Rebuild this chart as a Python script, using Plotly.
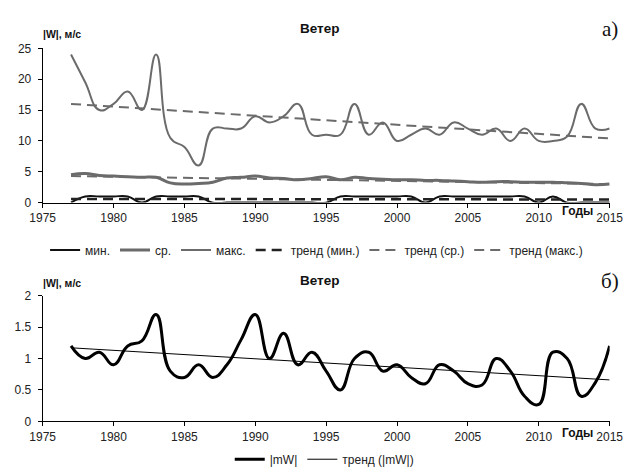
import plotly.graph_objects as go

# ---- data -------------------------------------------------------------
years = list(range(1977, 2016))

w_min = [0, 1, 1, 1, 1, 0, 1, 1, 1, 1,
         0, 0, 0, 0, 0, 0, 0, 0, 0, 1,
         1, 1, 1, 1, 1, 0, 1, 1, 1, 1,
         1, 1, 1, 0, 1, 0, 0, 0, 0]

w_avg = [4.5, 4.7, 4.4, 4.3, 4.2, 4.1, 4.1, 3.2, 3.0, 3.1,
         3.3, 4.0, 4.1, 4.3, 4.0, 3.9, 3.7, 3.9, 4.2, 3.7,
         4.1, 3.9, 3.8, 3.7, 3.7, 3.6, 3.6, 3.5, 3.4, 3.3,
         3.4, 3.4, 3.3, 3.3, 3.3, 3.2, 3.1, 2.9, 3.0]

w_max = [24, 19.5, 15, 16, 18, 15, 24, 10.5, 9, 6,
         12, 12, 12, 14, 13, 14, 16, 11, 11, 11,
         16, 11, 13, 10, 11, 12, 11, 13, 12, 11,
         12, 10, 12, 10, 10, 10.7, 16, 12, 12]

trend_years = [1977, 2015]
trend_min = [0.6, 0.5]
trend_avg = [4.3, 3.0]
trend_max = [16.0, 10.4]

mw = [1.2, 1.0, 1.1, 0.9, 1.2, 1.28, 1.7, 0.8, 0.7, 0.9,
      0.7, 0.9, 1.3, 1.7, 1.0, 1.4, 0.9, 1.1, 0.8, 0.5,
      1.0, 1.1, 0.8, 0.9, 0.7, 0.6, 0.9, 0.8, 0.6, 0.58,
      1.0, 0.8, 0.4, 0.27, 1.1, 1.0, 0.4, 0.62, 1.2]
trend_mw = [1.17, 0.66]

x_ticks = [1975, 1980, 1985, 1990, 1995, 2000, 2005, 2010, 2015]

# ---- figure -----------------------------------------------------------
W, H = 638, 474
FONT = "Liberation Sans"
GRAY = "#6b6b6b"
SMOOTH = 1.3


def px_x(p):
    return p / W


def px_y(p):
    return 1 - p / H


fig = go.Figure()

# top panel
fig.add_trace(go.Scatter(x=years, y=w_min, name="мин.", mode="lines",
                         line=dict(color="#111111", width=2, shape="spline", smoothing=SMOOTH),
                         xaxis="x", yaxis="y", legend="legend"))
fig.add_trace(go.Scatter(x=years, y=w_avg, name="ср.", mode="lines",
                         line=dict(color=GRAY, width=3, shape="spline", smoothing=SMOOTH),
                         xaxis="x", yaxis="y", legend="legend"))
fig.add_trace(go.Scatter(x=years, y=w_max, name="макс.", mode="lines",
                         line=dict(color=GRAY, width=2, shape="spline", smoothing=SMOOTH),
                         xaxis="x", yaxis="y", legend="legend"))
fig.add_trace(go.Scatter(x=trend_years, y=trend_min, name="тренд (мин.)", mode="lines",
                         line=dict(color="#222222", width=2.5, dash="10px,6px"),
                         xaxis="x", yaxis="y", legend="legend"))
fig.add_trace(go.Scatter(x=trend_years, y=trend_avg, name="тренд (ср.)", mode="lines",
                         line=dict(color=GRAY, width=2, dash="10px,6px"),
                         xaxis="x", yaxis="y", legend="legend"))
fig.add_trace(go.Scatter(x=trend_years, y=trend_max, name="тренд (макс.)", mode="lines",
                         line=dict(color=GRAY, width=2, dash="10px,6px"),
                         xaxis="x", yaxis="y", legend="legend"))

# bottom panel
fig.add_trace(go.Scatter(x=years, y=mw, name="|mW|", mode="lines",
                         line=dict(color="black", width=3, shape="spline", smoothing=SMOOTH),
                         xaxis="x2", yaxis="y2", legend="legend2"))
fig.add_trace(go.Scatter(x=trend_years, y=trend_mw, name="тренд (|mW|)", mode="lines",
                         line=dict(color="black", width=1),
                         xaxis="x2", yaxis="y2", legend="legend2"))

axis_common = dict(showline=True, linecolor="black", linewidth=1,
                   ticks="outside", ticklen=4, tickcolor="black",
                   showgrid=False, zeroline=False,
                   tickfont=dict(family=FONT, size=12, color="#222"))

xdom = [px_x(31), px_x(623)]
fig.update_layout(
    width=W, height=H,
    margin=dict(l=0, r=0, t=0, b=0),
    paper_bgcolor="white", plot_bgcolor="white",
    font=dict(family=FONT, color="#222"),
    xaxis=dict(domain=xdom, range=[1975, 2015], tickvals=x_ticks,
               anchor="y", **axis_common),
    yaxis=dict(domain=[px_y(202), px_y(42.7)], range=[0, 25], dtick=5,
               anchor="x", ticklabelstandoff=4, **axis_common),
    xaxis2=dict(domain=xdom, range=[1975, 2015], tickvals=x_ticks,
                anchor="y2", **axis_common),
    yaxis2=dict(domain=[px_y(428), px_y(298)], range=[0, 2], dtick=0.5,
                anchor="x2", ticklabelstandoff=4, **axis_common),
    legend=dict(orientation="h", x=px_x(317), xanchor="center",
                y=px_y(251), yanchor="middle", itemwidth=30,
                font=dict(family=FONT, size=12, color="#222"),
                bgcolor="rgba(0,0,0,0)"),
    legend2=dict(orientation="h", x=px_x(325), xanchor="center",
                 y=px_y(467), yanchor="middle", itemwidth=30,
                 font=dict(family=FONT, size=12, color="#222"),
                 bgcolor="rgba(0,0,0,0)"),
    showlegend=True,
)

for text, yy in [("<b>Ветер</b>", 22), ("<b>Ветер</b>", 282)]:
    fig.add_annotation(text=text, x=px_x(320), y=px_y(yy), xref="paper", yref="paper",
                       xanchor="center", yanchor="middle", showarrow=False,
                       font=dict(family=FONT, size=13.5, color="#111"))

for yy in [28, 285]:
    fig.add_annotation(text="<b>|W|, м/с</b>", x=px_x(29), y=px_y(yy), xref="paper", yref="paper",
                       xanchor="left", yanchor="middle", showarrow=False,
                       font=dict(family=FONT, size=10.5, color="#111"))

for yy in [211, 440]:
    fig.add_annotation(text="<b>Годы</b>", x=px_x(589), y=px_y(yy), xref="paper", yref="paper",
                       xanchor="center", yanchor="middle", showarrow=False,
                       font=dict(family=FONT, size=12, color="#111"))

for label, yy in [("а)", 23), ("б)", 283)]:
    fig.add_annotation(text=label, x=px_x(623), y=px_y(yy), xref="paper", yref="paper",
                       xanchor="center", yanchor="middle", showarrow=False,
                       font=dict(family="Liberation Serif", size=21, color="#111"))

fig.write_html("out.html")
